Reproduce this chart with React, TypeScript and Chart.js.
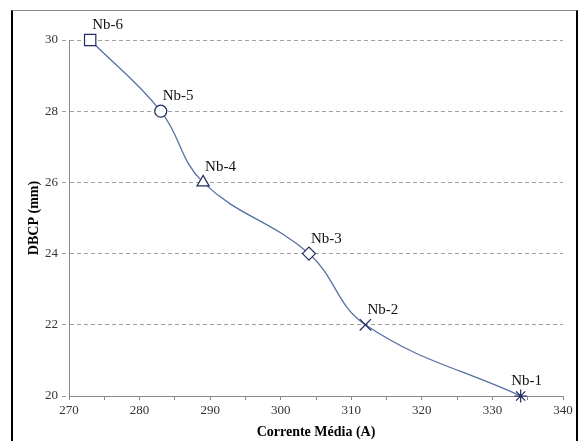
import React, { useEffect, useRef } from "react";
import { Chart, registerables } from "chart.js";

Chart.register(...registerables);

const sampleLabels = ["Nb-1", "Nb-2", "Nb-3", "Nb-4", "Nb-5", "Nb-6"];
const correnteMedia = [334, 312, 304, 289, 283, 273];
const dbcp = [20, 22, 24, 26, 28, 30];
const markerStyles = ["star", "crossRot", "rectRot", "triangle", "circle", "rect"];
const markerSizes = [6.5, 8, 6.5, 7, 6, 8];
const xTitle = "Corrente Média (A)";
const yTitle = "DBCP (mm)";

const serif = "'Liberation Serif', 'Times New Roman', serif";

const labelPlugin = {
  id: "pointLabels",
  afterDatasetsDraw(chart: any) {
    const ctx = chart.ctx;
    const meta = chart.getDatasetMeta(0);
    const area = chart.chartArea;
    ctx.save();
    ctx.font = `15px ${serif}`;
    ctx.fillStyle = "#111";
    ctx.textBaseline = "alphabetic";
    meta.data.forEach((el: any, i: number) => {
      const txt = sampleLabels[i];
      const w = ctx.measureText(txt).width;
      let x = el.x + 2;
      if (x + w > area.right - 10) x = el.x - w / 2 + 6;
      ctx.fillText(txt, x, el.y - 11);
    });
    ctx.restore();
  },
};

export default function App() {
  const ref = useRef<HTMLCanvasElement>(null);
  useEffect(() => {
    if (!ref.current) return;
    const chart = new Chart(ref.current, {
      type: "scatter",
      data: {
        datasets: [
          {
            data: correnteMedia.map((x, i) => ({ x, y: dbcp[i] })),
            showLine: true,
            clip: false as any,
            tension: 0.4,
            borderColor: "#5470a3",
            borderWidth: 1.3,
            pointStyle: markerStyles as any,
            pointRadius: markerSizes,
            pointBackgroundColor: "#ffffff",
            pointBorderColor: "#1f2b5c",
            pointBorderWidth: 1.2,
          },
        ],
      },
      options: {
        animation: false,
        responsive: false,
        maintainAspectRatio: false,
        layout: { padding: { left: 24, right: 15, top: 40, bottom: 0 } },
        plugins: { legend: { display: false }, tooltip: { enabled: false } },
        scales: {
          x: {
            type: "linear",
            min: 270,
            max: 340,
            afterFit: (s: any) => {
              s.height = 45;
            },
            ticks: {
              stepSize: 5,
              autoSkip: false,
              maxRotation: 0,
              padding: 3,
              color: "#333",
              font: { family: serif, size: 13 },
              callback: (v: any) => (Number(v) % 10 === 0 ? String(v) : ""),
            },
            grid: {
              drawOnChartArea: false,
              drawTicks: true,
              tickLength: 4,
              color: "#888",
            },
            border: { color: "#888", width: 1 },
            title: {
              display: true,
              text: xTitle,
              color: "#000",
              font: { family: serif, size: 14, weight: "bold" },
              padding: { top: 1, bottom: 0 },
            },
          },
          y: {
            min: 20,
            max: 30,
            afterFit: (s: any) => {
              s.width = 45;
            },
            ticks: {
              stepSize: 2,
              padding: 4,
              color: "#333",
              font: { family: serif, size: 13 },
            },
            grid: {
              color: (c: any) => (c.tick && c.tick.value === 20 ? "rgba(0,0,0,0)" : "#a0a0a0"),
              tickColor: "#999",
              tickLength: 7,
              tickBorderDash: [4, 3],
              lineWidth: 1,
            },
            border: { color: "#888", width: 1, dash: [4, 3] },
            title: {
              display: true,
              text: yTitle,
              color: "#000",
              font: { family: serif, size: 14, weight: "bold" },
              padding: { top: 2, bottom: 2 },
            },
          },
        },
      },
      plugins: [labelPlugin],
    });
    return () => chart.destroy();
  }, []);
  return (
    <div style={{ position: "fixed", left: 0, top: 0, width: 578, height: 441, background: "#fff" }}>
      <canvas ref={ref} width={578} height={441} style={{ display: "block" }} />
      <div
        style={{
          position: "absolute",
          left: 11,
          top: 10,
          width: 563,
          height: 431,
          borderLeft: "2px solid #000",
          borderTop: "1px solid #888",
          borderRight: "2px solid #000",
          pointerEvents: "none",
        }}
      />
    </div>
  );
}
